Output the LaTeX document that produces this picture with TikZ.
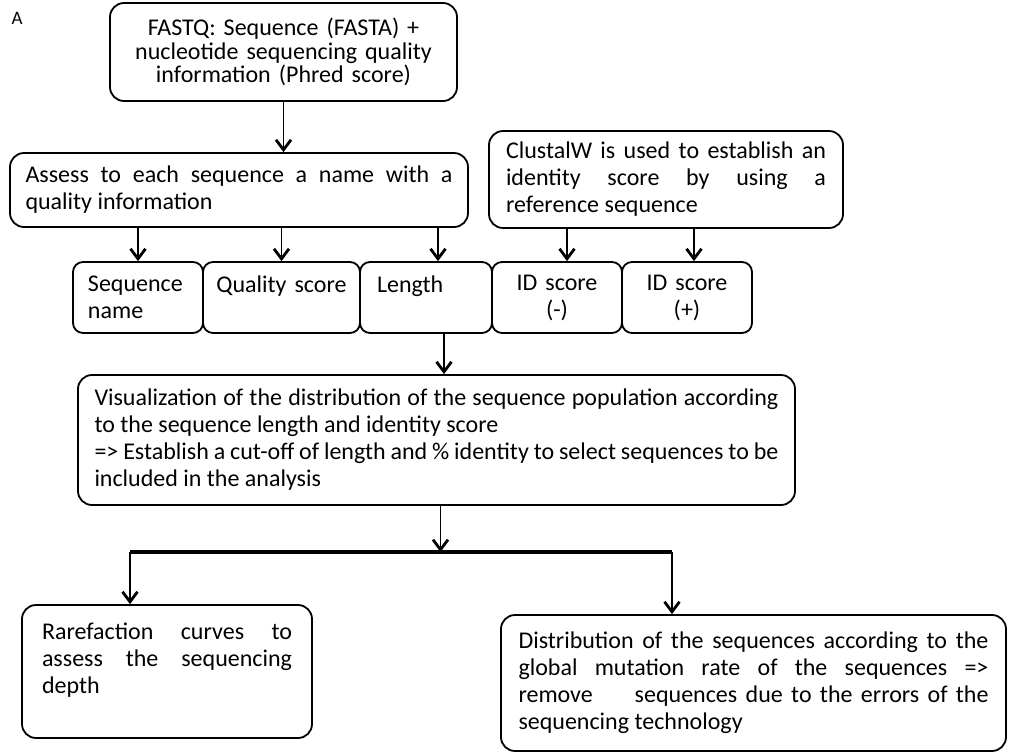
\documentclass[tikz,border=0pt]{standalone}
\usepackage{fontspec}
\setmainfont{Carlito}
\usetikzlibrary{arrows.meta}

\begin{document}
\begin{tikzpicture}[x=0.5pt, y=-0.5pt,
  box/.style={draw, line width=0.9pt, rounded corners=7pt, inner ysep=2pt, font=\fontsize{12}{13.5}\selectfont},
  cell/.style={box, rounded corners=5pt, minimum height=35.5pt, text width=50pt, inner xsep=7.5pt, align=left},
  arr/.style={line width=0.75pt, -{Straight Barb[length=5pt, width=7.5pt, line width=1.4pt]}}]
  \useasboundingbox (0,0) rectangle (1009,752);
  \node[font=\fontsize{9.5}{10}\selectfont, inner sep=0pt] (panel) at (17,18) {A};
  \node[box, minimum width=173.5pt, minimum height=49pt, text width=150pt, align=center, font=\fontsize{12}{11.75}\selectfont] (fastq) at (283.5,52) {FASTQ: Sequence (FASTA) +\\nucleotide sequencing quality\\information (Phred score)};
  \node[box, minimum height=37pt, text width=213.5pt, inner xsep=7.75pt, align=justify] (assess) at (239,190) {Assess to each sequence a name with a\linebreak quality information};
  \node[box, minimum height=48.5pt, text width=160pt, inner xsep=8.5pt, align=justify] (clustal) at (666,179.5) {ClustalW is used to establish an\linebreak identity score by using a\linebreak reference sequence};
  \node[cell] (seqname) at (138,297.5) {Sequence\\name};
  \node[cell, text width=72pt, inner xsep=3.25pt, align=center] (quality) at (281.5,297.5) {Quality score\\~};
  \node[cell, text width=49pt, inner xsep=8.5pt] (length) at (426,297.5) {Length\\~};
  \node[cell, align=center] (idminus) at (557,297.5) {ID score\\(-)};
  \node[cell, align=center] (idplus) at (687,297.5) {ID score\\(+)};
  \node[box, minimum height=65pt, text width=342pt, inner xsep=8.25pt, align=justify] (visual) at (436.5,440) {Visualization of the distribution of the sequence population according\linebreak to the sequence length and identity score\\=> Establish a cut-off of length and \% identity to select sequences to be\linebreak included in the analysis};
  \node[box, minimum height=66.5pt, text width=125pt, inner xsep=10pt, align=justify] (rare) at (167,671.5) {Rarefaction curves to\linebreak assess the sequencing\linebreak depth\\~};
  \node[box, minimum height=68pt, text width=235pt, inner xsep=8.75pt, align=justify] (distrib) at (753.5,683) {Distribution of the sequences according to the\linebreak global mutation rate of the sequences =>\linebreak remove\hspace{1.4em} sequences due to the errors of the\linebreak sequencing technology};
  \coordinate (barL) at (130,552);
  \coordinate (barR) at (672,552);
  \draw[arr] (fastq.south) -- (fastq.south |- assess.north);
  \draw[arr] (seqname.north |- assess.south) -- (seqname.north);
  \draw[arr] (quality.north |- assess.south) -- (quality.north);
  \draw[arr] ([xshift=6pt]length.north |- assess.south) -- ([xshift=6pt]length.north);
  \draw[arr] ([xshift=5pt]idminus.north |- clustal.south) -- ([xshift=5pt]idminus.north);
  \draw[arr] ([xshift=3.5pt]idplus.north |- clustal.south) -- ([xshift=3.5pt]idplus.north);
  \draw[arr] ([xshift=9pt]length.south) -- ([xshift=9pt]length.south |- visual.north);
  \draw[arr] ([xshift=2pt]visual.south) -- ([xshift=2pt]visual.south |- barL);
  \draw[line width=1.75pt] (barL) -- (barR);
  \draw[arr] (barL) -- (barL |- rare.north);
  \draw[arr] (barR) -- (barR |- distrib.north);
\end{tikzpicture}
\end{document}
